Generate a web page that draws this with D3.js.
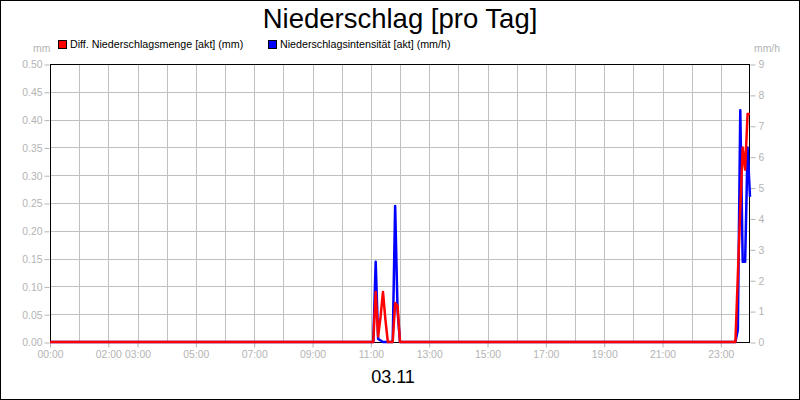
<!DOCTYPE html>
<html>
<head>
<meta charset="utf-8">
<script src="https://cdn.jsdelivr.net/npm/d3@7"></script>
<style>
  body { margin: 0; background: #fff; }
  text { font-family: "Liberation Sans", Arial, sans-serif; }
</style>
</head>
<body>
<script>
// data, one value every few minutes around the rain events
var times = ["00:00", "11:00", "11:05", "11:10", "11:15", "11:20", "11:25", "11:30", "11:35", "11:40",
  "11:45", "11:50", "11:55", "12:00", "23:30", "23:35", "23:40", "23:45", "23:50", "23:55", "24:00"];
var mengeMm = [0, 0, 0, 0.09, 0.01, 0.045, 0.09, 0.04, 0, 0,
  0, 0.07, 0.065, 0, 0, 0.12, 0.24, 0.35, 0.31, 0.41, 0.41];
var intensitaetMmh = [0, 0, 0, 2.6, 0.1, 0.05, 0, 0, 0, 0,
  0, 4.4, 1.0, 0, 0, 0.4, 7.5, 2.6, 2.6, 6.3, 4.7];
var xTickLabels = ["00:00", "02:00", "03:00", "05:00", "07:00", "09:00", "11:00",
  "13:00", "15:00", "17:00", "19:00", "21:00", "23:00"];
var leftTicks = [0, 0.05, 0.1, 0.15, 0.2, 0.25, 0.3, 0.35, 0.4, 0.45, 0.5];
var rightTicks = [0, 1, 2, 3, 4, 5, 6, 7, 8, 9];

var width = 800, height = 400;
var plotLeft = 50, plotRight = 750, plotTop = 64, plotBottom = 342;
var grey = "#b4b4b4";

function toMin(s) { var p = s.split(":"); return +p[0] * 60 + +p[1]; }

var x = d3.scaleLinear().domain([0, 1440]).range([plotLeft, plotRight]);
var yL = d3.scaleLinear().domain([0, 0.5]).range([plotBottom, plotTop]);
var yR = d3.scaleLinear().domain([0, 9]).range([plotBottom, plotTop]);

var svg = d3.select("body").append("svg")
  .attr("width", width)
  .attr("height", height);

// outer frame
svg.append("rect")
  .attr("x", 0.5).attr("y", 0.5)
  .attr("width", width - 1).attr("height", height - 1)
  .attr("fill", "#fff").attr("stroke", "#000");

svg.append("text")
  .attr("x", 400).attr("y", 28)
  .attr("text-anchor", "middle")
  .attr("font-size", 27.5)
  .text("Niederschlag [pro Tag]");

// legend
var legend = [
  { x: 58, color: "#ff0000", label: "Diff. Niederschlagsmenge [akt] (mm)" },
  { x: 268, color: "#0000ff", label: "Niederschlagsintensität [akt] (mm/h)" }
];
var lg = svg.selectAll(".lg").data(legend).enter().append("g").attr("class", "lg");
lg.append("rect")
  .attr("x", function (d) { return d.x + 0.5; }).attr("y", 40.5)
  .attr("width", 8).attr("height", 8)
  .attr("fill", function (d) { return d.color; })
  .attr("stroke", "#000");
lg.append("text")
  .attr("x", function (d) { return d.x + 12; }).attr("y", 48)
  .attr("font-size", 10.7)
  .text(function (d) { return d.label; });

// grid
var hours = d3.range(1, 24);
svg.append("g").selectAll("line").data(hours).enter().append("line")
  .attr("x1", function (d) { return Math.round(x(d * 60)) + 0.5; })
  .attr("x2", function (d) { return Math.round(x(d * 60)) + 0.5; })
  .attr("y1", plotTop).attr("y2", plotBottom)
  .attr("stroke", "#c0c0c0");
svg.append("g").selectAll("line").data(leftTicks.slice(1, -1)).enter().append("line")
  .attr("x1", plotLeft).attr("x2", plotRight)
  .attr("y1", function (d) { return Math.round(yL(d)) + 0.5; })
  .attr("y2", function (d) { return Math.round(yL(d)) + 0.5; })
  .attr("stroke", "#c0c0c0");

// axes
var axL = svg.append("g")
  .attr("transform", "translate(" + (plotLeft - 0.5) + ",0.5)")
  .call(d3.axisLeft(yL).tickValues(leftTicks).tickFormat(d3.format(".2f")).tickSize(5).tickPadding(2));
var axR = svg.append("g")
  .attr("transform", "translate(" + (plotRight + 0.5) + ",0.5)")
  .call(d3.axisRight(yR).tickValues(rightTicks).tickSize(5).tickPadding(3));
var axB = svg.append("g")
  .attr("transform", "translate(0," + (plotBottom + 0.5) + ")")
  .call(d3.axisBottom(x).tickValues(xTickLabels.map(toMin))
    .tickFormat(function (d, i) { return xTickLabels[i]; }).tickSize(5).tickPadding(3));
[axL, axR, axB].forEach(function (a) {
  a.select(".domain").remove();
  a.selectAll("line").attr("stroke", grey);
  a.selectAll("text").attr("fill", grey).attr("font-size", 10.4)
    .attr("font-family", "Liberation Sans, Arial, sans-serif");
});

svg.append("text").attr("x", 33).attr("y", 52).attr("font-size", 10.4).attr("fill", grey).text("mm");
svg.append("text").attr("x", 754).attr("y", 52).attr("font-size", 10.4).attr("fill", grey).text("mm/h");

svg.append("text")
  .attr("x", 393).attr("y", 383)
  .attr("text-anchor", "middle")
  .attr("font-size", 18)
  .text("03.11");

// plot frame
svg.append("rect")
  .attr("x", plotLeft + 0.5).attr("y", plotTop + 0.5)
  .attr("width", plotRight - plotLeft - 1).attr("height", plotBottom - plotTop)
  .attr("fill", "none").attr("stroke", "#000");

// series
var mins = times.map(toMin);
var lineR = d3.line()
  .x(function (d, i) { return x(mins[i]); })
  .y(function (d) { return yR(d); });
var lineL = d3.line()
  .x(function (d, i) { return x(mins[i]); })
  .y(function (d) { return yL(d); });

svg.append("path").datum(intensitaetMmh)
  .attr("d", lineR)
  .attr("fill", "none").attr("stroke", "#0000ff").attr("stroke-width", 2.5)
  .attr("stroke-linejoin", "round");
svg.append("path").datum(mengeMm)
  .attr("d", lineL)
  .attr("fill", "none").attr("stroke", "#ff0000").attr("stroke-width", 2.5)
  .attr("stroke-linejoin", "round");
</script>
</body>
</html>
